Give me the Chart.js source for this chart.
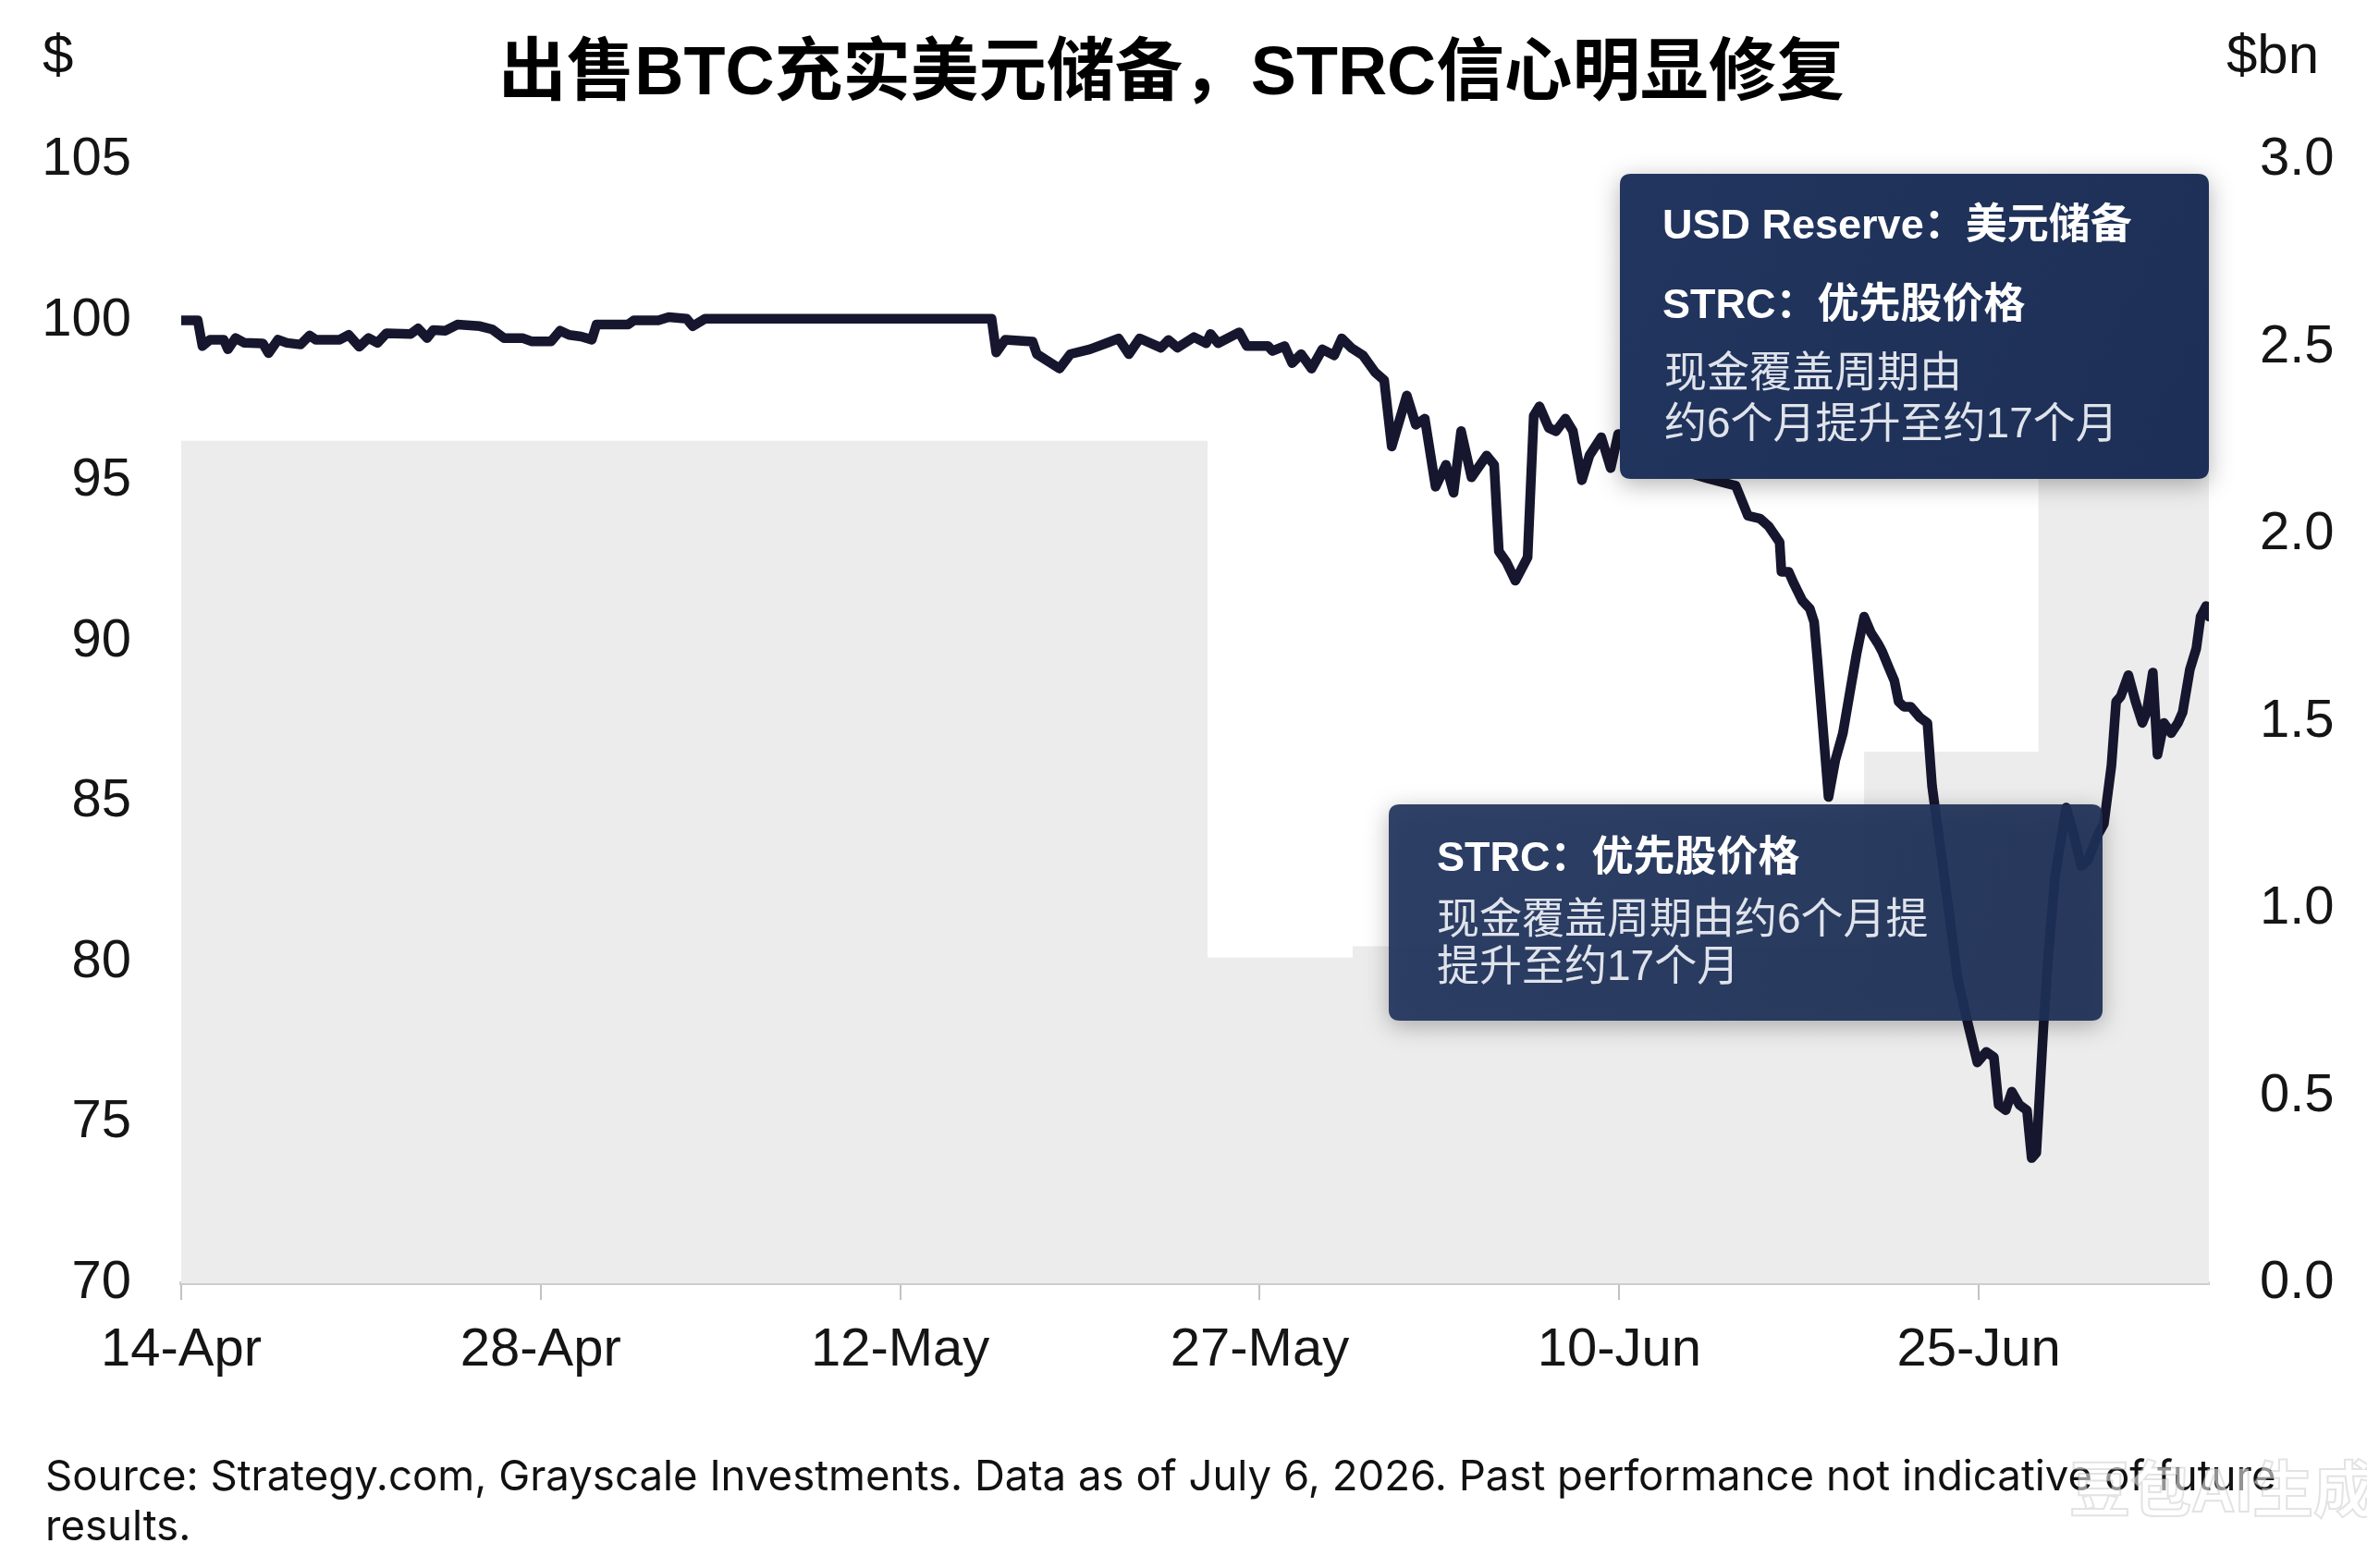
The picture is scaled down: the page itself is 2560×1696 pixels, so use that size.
<!DOCTYPE html>
<html><head><meta charset="utf-8">
<script src="https://cdn.jsdelivr.net/npm/chart.js@4.4.1/dist/chart.umd.min.js"></script>
<style>html,body{margin:0;padding:0;background:#fff;}canvas{display:block}</style>
</head><body>
<canvas id="c" width="2560" height="1696" style="width:2560px;height:1696px"></canvas>
<script>
// ---------- DATA ----------
const titleText = '出售BTC充实美元储备，STRC信心明显修复';
const leftUnit = '$';
const rightUnit = '$bn';
const sourceLines = ['Source: Strategy.com, Grayscale Investments. Data as of July 6, 2026. Past performance not indicative of future', 'results.'];

// x = trading-day index from 14-Apr (ticks every 10 trading days)
const xTickIdx = [0, 10, 20, 30, 40, 50];
const xTickLabels = ['14-Apr', '28-Apr', '12-May', '27-May', '10-Jun', '25-Jun'];
const leftTicks = [105, 100, 95, 90, 85, 80, 75, 70];
const rightTicks = [3.0, 2.5, 2.0, 1.5, 1.0, 0.5, 0.0];

// STRC preferred price ($, left axis)
const strcX = [
  0, 0.46, 0.59, 0.80, 1.18, 1.30, 1.51, 1.76, 2.27, 2.43,
  2.69, 2.94, 3.32, 3.57, 3.74, 4.41, 4.66, 4.95, 5.21, 5.46,
  5.71, 6.38, 6.59, 6.84, 7.01, 7.35, 7.68, 8.31, 8.65, 8.98,
  9.49, 9.74, 10.29, 10.54, 10.79, 11.12, 11.42, 11.55, 12.43, 12.59,
  13.27, 13.56, 14.06, 14.23, 14.57, 15.07, 18.47, 22.54, 22.67, 22.92,
  23.68, 23.80, 24.43, 24.73, 25.27, 25.73, 26.07, 26.36, 26.66, 27.25,
  27.46, 27.71, 28.17, 28.51, 28.63, 28.84, 29.43, 29.64, 30.23, 30.35,
  30.69, 30.90, 31.15, 31.44, 31.74, 32.07, 32.28, 32.54, 32.87, 33.21,
  33.46, 33.67, 34.09, 34.34, 34.59, 34.89, 35.18, 35.39, 35.60, 35.89,
  36.31, 36.52, 36.65, 36.86, 37.11, 37.45, 37.62, 37.78, 38.04, 38.24,
  38.50, 38.71, 38.96, 39.17, 39.50, 39.76, 39.97, 40.51, 41.14, 41.77,
  42.48, 43.24, 43.58, 43.91, 44.16, 44.46, 44.51, 44.71, 44.84, 45.09,
  45.30, 45.42, 45.51, 45.63, 45.82, 46.01, 46.22, 46.42, 46.60, 46.81,
  47.00, 47.19, 47.31, 47.52, 47.65, 47.77, 47.92, 48.11, 48.36, 48.57,
  48.70, 48.78, 49.12, 49.41, 49.71, 49.96, 50.21, 50.42, 50.55, 50.75,
  50.92, 51.13, 51.34, 51.47, 51.60, 51.80, 51.93, 52.12, 52.43, 52.64,
  52.85, 53.02, 53.32, 53.48, 53.69, 53.82, 53.95, 54.16, 54.36, 54.55,
  54.67, 54.84, 54.97, 55.15, 55.35, 55.54, 55.67, 55.87, 56.05, 56.17,
  56.32, 56.40
];
const strcPrice = [
  100.0, 100.0, 99.2, 99.4, 99.4, 99.1, 99.45, 99.3, 99.28, 98.98,
  99.4, 99.3, 99.25, 99.53, 99.4, 99.4, 99.55, 99.18, 99.45, 99.3,
  99.6, 99.58, 99.75, 99.45, 99.7, 99.68, 99.87, 99.82, 99.72, 99.45,
  99.45, 99.35, 99.35, 99.68, 99.55, 99.5, 99.4, 99.87, 99.87, 100.0,
  100.0, 100.1, 100.05, 99.82, 100.05, 100.05, 100.05, 100.05, 99.0, 99.4,
  99.34, 98.95, 98.5, 98.95, 99.1, 99.29, 99.44, 98.95, 99.44, 99.15,
  99.39, 99.15, 99.48, 99.29, 99.58, 99.29, 99.63, 99.2, 99.2, 99.05,
  99.2, 98.67, 98.95, 98.5, 99.1, 98.91, 99.44, 99.15, 98.91, 98.38,
  98.14, 96.07, 97.66, 96.75, 96.94, 94.82, 95.5, 94.63, 96.55, 95.11,
  95.79, 95.5, 92.81, 92.47, 91.89, 92.62, 97.03, 97.32, 96.65, 96.55,
  96.94, 96.55, 95.02, 95.79, 96.36, 95.4, 96.46, 96.0, 95.6, 95.3,
  95.07, 94.85, 93.91, 93.83, 93.58, 93.09, 92.17, 92.17, 91.84, 91.27,
  91.02, 90.6, 89.44, 87.79, 85.15, 86.3, 87.14, 88.45, 89.61, 90.77,
  90.27, 89.94, 89.69, 89.12, 88.78, 88.12, 87.96, 87.96, 87.63, 87.46,
  85.49, 84.82, 82.0, 79.5, 78.03, 76.88, 77.21, 77.04, 75.56, 75.39,
  75.97, 75.56, 75.39, 73.9, 74.06, 78.03, 80.18, 82.67, 84.82, 83.99,
  83.0, 83.16, 83.99, 84.32, 86.14, 88.12, 88.29, 88.95, 88.12, 87.46,
  87.8, 89.03, 86.47, 87.46, 87.14, 87.46, 87.79, 89.12, 89.78, 90.77,
  91.1, 90.77
];

// USD Reserve ($bn, right axis) - step changes (value holds until next change)
const reserveX = [0, 28.55, 32.58, 46.81, 51.66, 56.4];
const reserveBn = [2.25, 0.87, 0.90, 1.42, 2.3, 2.3];

// annotation texts
const noteUpper = ['USD Reserve：美元储备', 'STRC：优先股价格', '现金覆盖周期由', '约6个月提升至约17个月'];
const noteLower = ['STRC：优先股价格', '现金覆盖周期由约6个月提', '提升至约17个月'];
const watermark = '豆包AI生成';

// ---------- CHART ----------
const FONT = '"Liberation Sans", "Noto Sans CJK SC", sans-serif';
const TICK_FONT = {family: FONT, size: 58};

function rr(ctx, x, y, w, h, r) {
  ctx.beginPath();
  ctx.moveTo(x + r, y);
  ctx.lineTo(x + w - r, y); ctx.quadraticCurveTo(x + w, y, x + w, y + r);
  ctx.lineTo(x + w, y + h - r); ctx.quadraticCurveTo(x + w, y + h, x + w - r, y + h);
  ctx.lineTo(x + r, y + h); ctx.quadraticCurveTo(x, y + h, x, y + h - r);
  ctx.lineTo(x, y + r); ctx.quadraticCurveTo(x, y, x + r, y);
  ctx.closePath();
}
function drawBox(ctx, x, y, w, h, alpha) {
  ctx.save();
  ctx.shadowColor = 'rgba(0,0,0,0.30)';
  ctx.shadowBlur = 26; ctx.shadowOffsetY = 6;
  ctx.globalAlpha = alpha;
  rr(ctx, x, y, w, h, 12);
  const g = ctx.createLinearGradient(x, y, x + w, y + h);
  g.addColorStop(0, '#22355e'); g.addColorStop(1, '#1d2f56');
  ctx.fillStyle = g; ctx.fill();
  ctx.restore();
}
function txt(ctx, s, x, y, size, weight, color, align) {
  ctx.font = `${weight} ${size}px ${FONT}`;
  ctx.fillStyle = color; ctx.textAlign = align || 'left'; ctx.textBaseline = 'middle';
  ctx.fillText(s, x, y);
}
function fitSize(ctx, s, weight, family, target) {
  ctx.font = `${weight} 100px ${family}`;
  return 100 * target / ctx.measureText(s).width;
}

const decor = {
  id: 'decor',
  beforeDraw(chart) {
    const ctx = chart.ctx; ctx.save();
    ctx.fillStyle = '#fff'; ctx.fillRect(0, 0, chart.width, chart.height);
    ctx.restore();
  },
  afterDatasetsDraw(chart) {
    const ctx = chart.ctx; ctx.save();
    // upper note box
    drawBox(ctx, 1752, 188, 637, 330, 1);
    txt(ctx, noteUpper[0], 1798, 246, 45, 700, '#ffffff');
    txt(ctx, noteUpper[1], 1798, 332, 45, 700, '#ffffff');
    txt(ctx, noteUpper[2], 1800, 405, 46, 400, '#dfe3eb');
    txt(ctx, noteUpper[3], 1800, 460, 46, 400, '#dfe3eb');
    // lower note box
    drawBox(ctx, 1502, 870, 772, 234, 0.93);
    txt(ctx, noteLower[0], 1554, 930, 45, 700, '#ffffff');
    txt(ctx, noteLower[1], 1554, 996, 46, 400, '#dfe3eb');
    txt(ctx, noteLower[2], 1554, 1047, 46, 400, '#dfe3eb');
    ctx.restore();
  },
  afterDraw(chart) {
    const ctx = chart.ctx; ctx.save();
    // title
    const ts = fitSize(ctx, titleText, 700, FONT, 1456);
    txt(ctx, titleText, 1267, 82, ts, 700, '#000000', 'center');
    // units
    txt(ctx, leftUnit, 46, 62, 60, 400, '#111111', 'left');
    txt(ctx, rightUnit, 2408, 62, 60, 400, '#111111', 'left');
    // source
    const SF = '"Inter", "Liberation Sans", sans-serif';
    const ss = fitSize(ctx, sourceLines[0], 400, SF, 2413);
    ctx.font = `400 ${ss}px ${SF}`; ctx.fillStyle = '#111'; ctx.textAlign = 'left'; ctx.textBaseline = 'middle';
    ctx.fillText(sourceLines[0], 49, 1598);
    ctx.fillText(sourceLines[1], 49, 1652);
    // faint watermark
    ctx.font = `700 66px ${FONT}`;
    ctx.textAlign = 'left'; ctx.textBaseline = 'middle';
    ctx.lineWidth = 2; ctx.strokeStyle = 'rgba(175,175,175,0.35)';
    ctx.fillStyle = 'rgba(255,255,255,0.55)';
    ctx.fillText(watermark, 2238, 1617);
    ctx.strokeText(watermark, 2238, 1617);
    ctx.restore();
  }
};

new Chart(document.getElementById('c'), {
  data: {
    datasets: [
      {
        type: 'line', label: 'STRC', yAxisID: 'y',
        data: strcX.map((x, i) => ({x, y: strcPrice[i]})),
        borderColor: '#16162e', borderWidth: 10.5, pointRadius: 0,
        borderJoinStyle: 'round', borderCapStyle: 'round', tension: 0, fill: false
      },
      {
        type: 'line', label: 'USD Reserve', yAxisID: 'y1',
        data: reserveX.map((x, i) => ({x, y: reserveBn[i]})),
        stepped: 'before', fill: 'origin', backgroundColor: '#ececec',
        borderWidth: 0, borderColor: 'rgba(0,0,0,0)', pointRadius: 0
      }
    ]
  },
  options: {
    responsive: false, animation: false, devicePixelRatio: 1,
    layout: {padding: {top: 173, left: 0, right: 0, bottom: 0}},
    plugins: {legend: {display: false}, tooltip: {enabled: false}, title: {display: false}},
    scales: {
      x: {
        type: 'linear', min: 0, max: 56.4,
        afterBuildTicks: s => { s.ticks = xTickIdx.map(v => ({value: v})); },
        ticks: {callback: v => xTickLabels[xTickIdx.indexOf(v)], font: TICK_FONT, color: '#151515', padding: 20, maxRotation: 0, autoSkip: false},
        grid: {drawOnChartArea: false, drawTicks: true, tickLength: 18, color: '#c2c2c2', lineWidth: 2},
        border: {display: true, color: '#cdcdcd', width: 4},
        afterFit: s => { s.height = 308; }
      },
      y: {
        position: 'left', min: 70, max: 105,
        afterBuildTicks: s => { s.ticks = leftTicks.map(v => ({value: v})); },
        ticks: {font: TICK_FONT, color: '#151515', padding: 54, callback: v => String(v)},
        grid: {display: false, drawTicks: false},
        border: {display: false},
        afterFit: s => { s.width = 196; }
      },
      y1: {
        position: 'right', min: 0, max: 3,
        afterBuildTicks: s => { s.ticks = rightTicks.map(v => ({value: v})); },
        ticks: {font: TICK_FONT, color: '#151515', padding: 55, callback: v => Number(v).toFixed(1)},
        grid: {display: false, drawTicks: false},
        border: {display: false},
        afterFit: s => { s.width = 171; }
      }
    }
  },
  plugins: [decor]
});
</script>
</body></html>
